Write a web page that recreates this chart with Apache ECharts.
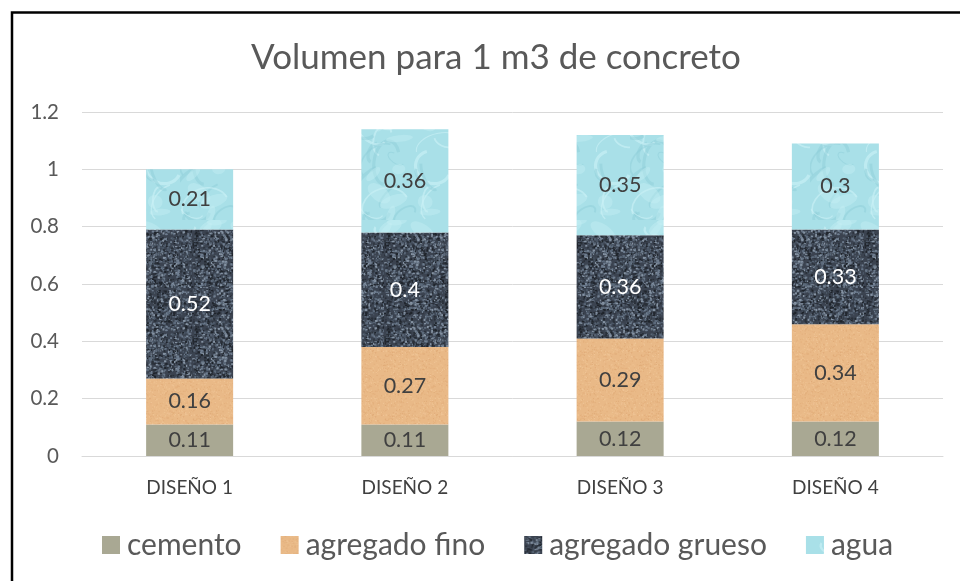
<!DOCTYPE html>
<html>
<head>
<meta charset="utf-8">
<script src="https://cdn.jsdelivr.net/npm/echarts@6/dist/echarts.min.js"></script>
<style>
  html, body { margin: 0; padding: 0; background: #fff; }
  #chart { width: 960px; height: 581px; }
</style>
</head>
<body>
<div id="chart"></div>
<script>
// Mix proportions per design (m3 per 1 m3 of concrete)
const categories = ['DISEÑO 1', 'DISEÑO 2', 'DISEÑO 3', 'DISEÑO 4'];
const cemento = [0.11, 0.11, 0.12, 0.12];
const agregadoFino = [0.16, 0.27, 0.29, 0.34];
const agregadoGrueso = [0.52, 0.4, 0.36, 0.33];
const agua = [0.21, 0.36, 0.35, 0.3];
const seriesNames = ['cemento', 'agregado fino', 'agregado grueso', 'agua'];
const yTicks = [0, 0.2, 0.4, 0.6, 0.8, 1, 1.2];

const FONT = 'Lato, "Noto Sans", sans-serif';

// Small deterministic generator for the surface textures
function lcg(seed) {
  let s = seed >>> 0;
  return function () {
    s = (s * 1664525 + 1013904223) >>> 0;
    return s / 4294967296;
  };
}

// Gravel texture: dark base with blue-grey specks
function gravelTexture() {
  const c = document.createElement('canvas');
  c.width = 96; c.height = 96;
  const g = c.getContext('2d');
  g.fillStyle = '#3b4350';
  g.fillRect(0, 0, 96, 96);
  const r = lcg(7);
  const tones = ['#5d6b7c', '#6f7e90', '#2a3039', '#4a5665', '#8593a3', '#1f242b'];
  for (let i = 0; i < 2600; i++) {
    g.fillStyle = tones[Math.floor(r() * tones.length)];
    const x = r() * 96, y = r() * 96;
    g.fillRect(x, y, 1 + r() * 1.6, 1 + r() * 1.4);
  }
  return c;
}

// Sand texture: warm tan with faint grain
function sandTexture() {
  const c = document.createElement('canvas');
  c.width = 64; c.height = 64;
  const g = c.getContext('2d');
  g.fillStyle = '#e9b987';
  g.fillRect(0, 0, 64, 64);
  const r = lcg(21);
  const tones = ['#e4b07d', '#eec290', '#e0ab78', '#f0c698'];
  for (let i = 0; i < 900; i++) {
    g.fillStyle = tones[Math.floor(r() * tones.length)];
    g.fillRect(r() * 64, r() * 64, 1, 1);
  }
  return c;
}

// Water texture: pale cyan with soft ripples
function waterTexture() {
  const c = document.createElement('canvas');
  c.width = 90; c.height = 110;
  const g = c.getContext('2d');
  g.fillStyle = '#a9e0e8';
  g.fillRect(0, 0, 90, 110);
  const r = lcg(33);
  for (let i = 0; i < 22; i++) {
    const x = r() * 90, y = r() * 110, rad = 8 + r() * 18;
    g.strokeStyle = r() > 0.5 ? 'rgba(205,241,246,0.6)' : 'rgba(140,205,216,0.45)';
    g.lineWidth = 1 + r() * 2.5;
    g.beginPath();
    g.ellipse(x, y, rad, rad * (0.4 + r() * 0.6), r() * Math.PI, 0, Math.PI * (0.6 + r() * 0.8));
    g.stroke();
  }
  for (let i = 0; i < 12; i++) {
    g.fillStyle = 'rgba(200,240,245,0.4)';
    g.beginPath();
    g.ellipse(r() * 90, r() * 110, 5 + r() * 10, 3 + r() * 6, r() * Math.PI, 0, Math.PI * 2);
    g.fill();
  }
  return c;
}

const fills = [
  '#a9a893',
  { image: sandTexture(), repeat: 'repeat' },
  { image: gravelTexture(), repeat: 'repeat' },
  { image: waterTexture(), repeat: 'repeat' }
];
const labelColors = ['#404040', '#404040', '#ffffff', '#404040'];
const values = [cemento, agregadoFino, agregadoGrueso, agua];

const chart = echarts.init(document.getElementById('chart'), null, { renderer: 'canvas' });

chart.setOption({
  backgroundColor: '#ffffff',
  animation: false,
  title: {
    text: 'Volumen para 1 m3 de concreto',
    left: 491,
    textAlign: 'center',
    top: 35,
    textStyle: { fontFamily: FONT, fontSize: 35, fontWeight: 'normal', color: '#595959' }
  },
  legend: {
    data: seriesNames,
    left: 102,
    top: 530,
    padding: 0,
    itemWidth: 18,
    itemHeight: 18,
    itemGap: 39,
    icon: 'rect',
    textStyle: { fontFamily: FONT, fontSize: 30, color: '#595959', padding: [0, 0, 0, 2] }
  },
  grid: { left: 82, right: 17, top: 112, bottom: 125 },
  xAxis: {
    type: 'category',
    data: categories,
    axisLine: { lineStyle: { color: '#d9d9d9', width: 1 } },
    axisTick: { show: false },
    axisLabel: { fontFamily: FONT, fontSize: 19, color: '#404040', margin: 22 }
  },
  yAxis: {
    type: 'value',
    min: yTicks[0],
    max: yTicks[yTicks.length - 1],
    interval: 0.2,
    axisLine: { show: false },
    axisTick: { show: false },
    splitLine: { lineStyle: { color: '#d9d9d9', width: 1 } },
    axisLabel: {
      fontFamily: FONT, fontSize: 20.5, color: '#595959', margin: 23,
      formatter: v => String(Math.round(v * 10) / 10)
    }
  },
  series: seriesNames.map((name, i) => ({
    name,
    type: 'bar',
    stack: 'total',
    barWidth: 87,
    data: values[i],
    itemStyle: { color: fills[i] },
    label: {
      show: true,
      position: 'inside',
      fontFamily: FONT,
      fontSize: 21.5,
      color: labelColors[i],
      formatter: p => String(p.value)
    }
  })),
  graphic: [{
    type: 'polyline',
    shape: { points: [[12, 581], [12, 12.5], [960, 12.5]] },
    style: { stroke: '#000000', lineWidth: 2.5, fill: null },
    silent: true
  }]
});
</script>
</body>
</html>
